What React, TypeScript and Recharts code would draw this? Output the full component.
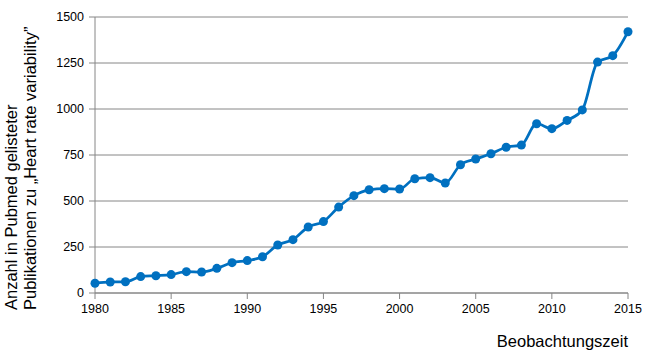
import React from "react";
import { LineChart, Line, XAxis, YAxis, CartesianGrid } from "recharts";

const years = [
  1980, 1981, 1982, 1983, 1984, 1985, 1986, 1987, 1988, 1989, 1990, 1991,
  1992, 1993, 1994, 1995, 1996, 1997, 1998, 1999, 2000, 2001, 2002, 2003,
  2004, 2005, 2006, 2007, 2008, 2009, 2010, 2011, 2012, 2013, 2014, 2015,
];
const publications = [
  53, 60, 61, 89, 94, 100, 116, 114, 134, 165, 176, 197,
  261, 290, 359, 388, 467, 529, 561, 567, 565, 621, 627, 598,
  697, 728, 757, 792, 804, 920, 893, 938, 995, 1255, 1290, 1420,
];
const xTicks = [1980, 1985, 1990, 1995, 2000, 2005, 2010, 2015];
const yTicks = [0, 250, 500, 750, 1000, 1250, 1500];
const yLabelLines = [
  "Anzahl in Pubmed gelisteter",
  "Publikationen zu \u201EHeart rate variability\u201D",
];
const xLabelText = "Beobachtungszeit";

const data = years.map((y, i) => ({ year: y, value: publications[i] }));

const FONT = "'Liberation Sans', Arial, sans-serif";
const GRAY = "#868686";
const BLUE = "#0070C0";

const YLabel = () => (
  <g>
    {yLabelLines.map((t, i) => (
      <text
        key={i}
        x={0}
        y={0}
        transform={`translate(${17 + i * 19}, 310) rotate(-90)`}
        textAnchor="start"
        fontSize={16.5}
        fontFamily={FONT}
        fill="#000"
      >
        {t}
      </text>
    ))}
  </g>
);

const XLabel = () => (
  <text
    x={628}
    y={347}
    textAnchor="end"
    fontSize={16.5}
    fontFamily={FONT}
    fill="#000"
  >
    {xLabelText}
  </text>
);

export default function App() {
  return (
    <div style={{ position: "absolute", left: 0, top: 0, background: "#fff" }}>
      <LineChart
        width={649}
        height={351}
        data={data}
        margin={{ top: 17, right: 21, bottom: 28, left: 0 }}
      >
        <CartesianGrid vertical={false} stroke={GRAY} strokeWidth={1} />
        <XAxis
          dataKey="year"
          type="number"
          domain={[1980, 2015]}
          ticks={xTicks}
          height={30}
          stroke={GRAY}
          tickSize={6}
          tickMargin={5}
          tick={{ fill: "#000", fontSize: 12.5, fontFamily: FONT }}
          label={{ content: () => <XLabel /> }}
        />
        <YAxis
          type="number"
          domain={[0, 1500]}
          ticks={yTicks}
          width={95}
          stroke={GRAY}
          tickSize={6}
          tickMargin={5}
          tick={{ fill: "#000", fontSize: 12.5, fontFamily: FONT }}
          label={{ content: () => <YLabel /> }}
        />
        <Line
          type="monotone"
          dataKey="value"
          stroke={BLUE}
          strokeWidth={2.75}
          dot={{ r: 4.5, fill: BLUE, stroke: BLUE, strokeWidth: 0 }}
          isAnimationActive={false}
        />
      </LineChart>
    </div>
  );
}
